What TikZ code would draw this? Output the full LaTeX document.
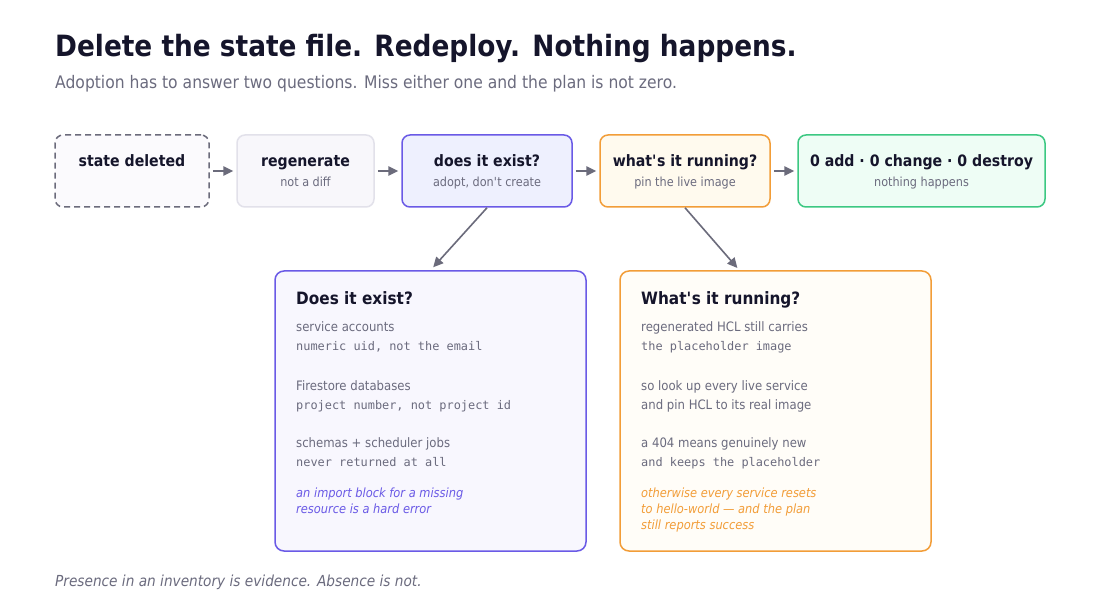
\documentclass[tikz,border=0pt]{standalone}
\usepackage{fontspec}
\setmainfont{DejaVu Sans}[FakeStretch=0.9]
\setmonofont{DejaVu Sans Mono}
\usetikzlibrary{arrows.meta}
\definecolor{ink}{HTML}{15152B}
\definecolor{muted}{HTML}{6B6B7E}
\definecolor{edge}{HTML}{6B6B7B}
\definecolor{adopt}{HTML}{6A5AE6}
\definecolor{amber}{HTML}{F29D38}
\definecolor{mint}{HTML}{3CC882}
\begin{document}
\begin{tikzpicture}[x=1pt,y=-1pt,
  box/.style={rectangle,rounded corners=8pt,line width=1.5pt,minimum height=72pt},
  card/.style={rectangle,rounded corners=9pt,line width=1.5pt,minimum width=311pt,minimum height=280pt},
  head/.style={font=\fontsize{15.7}{18}\selectfont\bfseries,text=ink,inner sep=0pt,anchor=base},
  sub/.style={font=\fontsize{12.5}{15}\selectfont,text=muted,inner sep=0pt,anchor=base},
  cardhead/.style={font=\fontsize{17}{20}\selectfont\bfseries,text=ink,inner sep=0pt,anchor=base west},
  body/.style={font=\fontsize{13}{16}\selectfont,text=muted,inner sep=0pt,anchor=base west},
  code/.style={font=\fontsize{11.9}{15}\selectfont\ttfamily,text=muted,inner sep=0pt,anchor=base west},
  aside/.style={font=\fontsize{12.7}{15}\selectfont\itshape,inner sep=0pt,anchor=base west},
  flow/.style={draw=edge,line width=1.6pt,-{Triangle[length=10pt,width=9.5pt]}}]
\fill[white] (0,0) rectangle (1100,609);
\useasboundingbox (0,0) rectangle (1100,609);
% title
\node[font=\fontsize{29.3}{34}\selectfont\bfseries,text=ink,inner sep=0pt,anchor=base west] (title) at (55,56.5) {Delete the state file. Redeploy. Nothing happens.};
\node[font=\fontsize{17.3}{20}\selectfont,text=muted,inner sep=0pt,anchor=base west] (subtitle) at (55,88.5) {Adoption has to answer two questions. Miss either one and the plan is not zero.};
% top row
\node[box,minimum width=154pt,draw=edge,dashed,dash pattern=on 6pt off 4pt,fill={rgb,255:red,251;green,250;blue,253}] (state) at (132,171) {};
\node[box,minimum width=137pt,draw={rgb,255:red,226;green,225;blue,234},fill={rgb,255:red,248;green,247;blue,251}] (regen) at (305.5,171) {};
\node[box,minimum width=170pt,draw=adopt,fill={rgb,255:red,238;green,240;blue,254}] (exist) at (487,171) {};
\node[box,minimum width=170pt,draw=amber,fill={rgb,255:red,255;green,250;blue,238}] (running) at (685,171) {};
\node[box,minimum width=247pt,draw=mint,fill={rgb,255:red,238;green,253;blue,245}] (zero) at (921.5,171) {};
\node[head] (state-t) at (132,167) {state deleted};
\node[head] (regen-t) at (305.5,167) {regenerate};
\node[sub] (regen-s) at (305.5,186.3) {not a diff};
\node[head] (exist-t) at (487,167) {does it exist?};
\node[sub] (exist-s) at (487,186.3) {adopt, don\textquotesingle t create};
\node[head] (running-t) at (685,167) {what\textquotesingle s it running?};
\node[sub] (running-s) at (685,186.3) {pin the live image};
\node[head] (zero-t) at (921.5,167) {0 add · 0 change · 0 destroy};
\node[sub] (zero-s) at (921.5,186.3) {nothing happens};
\draw[flow,shorten <=3pt,shorten >=3pt] (state.east) -- (regen.west);
\draw[flow,shorten <=3pt,shorten >=3pt] (regen.east) -- (exist.west);
\draw[flow,shorten <=3pt,shorten >=3pt] (exist.east) -- (running.west);
\draw[flow,shorten <=3pt,shorten >=3pt] (running.east) -- (zero.west);
% detail cards
\node[card,draw=adopt,fill={rgb,255:red,248;green,247;blue,254}] (exist-d) at (430.5,411) {};
\node[card,draw=amber,fill={rgb,255:red,255;green,253;blue,248}] (running-d) at (775.5,411) {};
\coordinate (running-in) at (740,271);
\draw[flow,shorten >=4pt] (exist.south) -- (exist-d.north);
\draw[flow,shorten >=4pt] (running.south) -- (running-in);
% left card
\node[cardhead] (e0) at (296,305) {Does it exist?};
\node[body] (e1) at (296,332) {service accounts};
\node[code] (e2) at (296,350.5) {numeric uid, not the email};
\node[body] (e3) at (296,390) {Firestore databases};
\node[code] (e4) at (296,409) {project number, not project id};
\node[body] (e5) at (296,447.5) {schemas + scheduler jobs};
\node[code] (e6) at (296,466.5) {never returned at all};
\node[aside,text=adopt] (e7) at (296,497) {an import block for a missing};
\node[aside,text=adopt] (e8) at (296,513) {resource is a hard error};
% right card
\node[cardhead] (r0) at (641,305) {What\textquotesingle s it running?};
\node[body] (r1) at (641,332) {regenerated HCL still carries};
\node[code] (r2) at (641,350.5) {the placeholder image};
\node[body] (r3) at (641,390) {so look up every live service};
\node[body] (r4) at (641,409) {and pin HCL to its real image};
\node[body] (r5) at (641,447.5) {a 404 means genuinely new};
\node[code] (r6) at (641,466.5) {and keeps the placeholder};
\node[aside,text=amber] (r7) at (641,497) {otherwise every service resets};
\node[aside,text=amber] (r8) at (641,513) {to hello-world — and the plan};
\node[aside,text=amber] (r9) at (641,529.5) {still reports success};
% footer
\node[font=\fontsize{15.2}{18}\selectfont\itshape,text=muted,inner sep=0pt,anchor=base west] (foot) at (55,586.5) {Presence in an inventory is evidence. Absence is not.};
\end{tikzpicture}
\end{document}
